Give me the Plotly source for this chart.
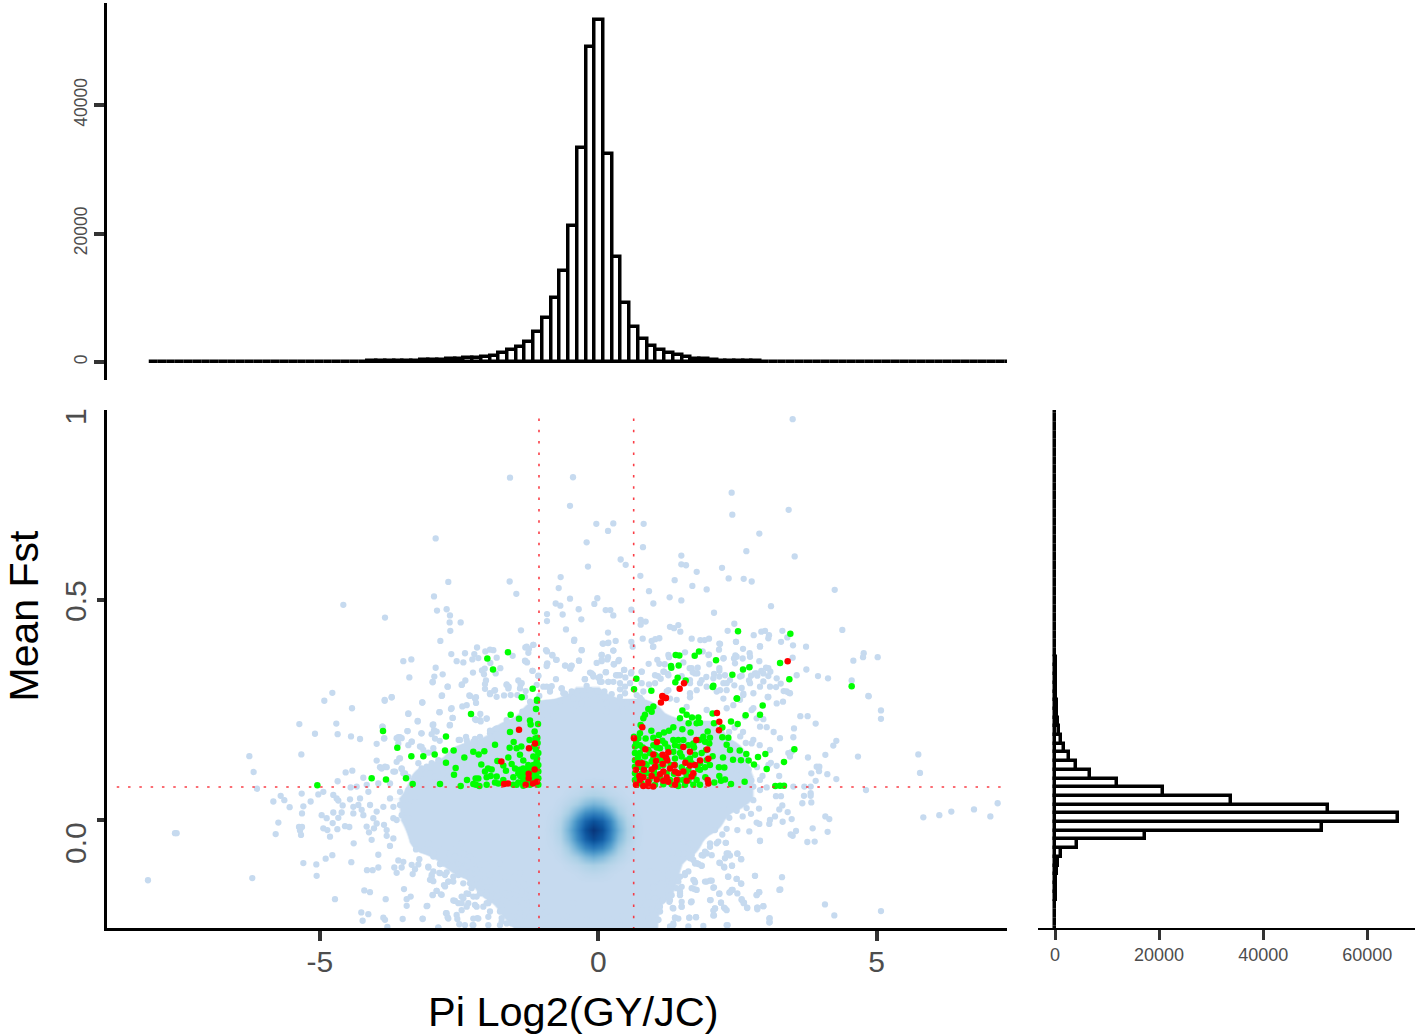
import plotly.graph_objects as go

W, H = 1418, 1036
FONT = "Liberation Sans"
GREY = "#4d4d4d"

# ---- marginal histogram of Pi Log2(GY/JC) (100 bins) ----
pi_bin_start = -7.9808
pi_bin_width = 0.1568
pi_counts = [2,1,1,1,2,1,2,2,3,3,4,5,5,6,8,10,12,14,18,22,28,36,
             44,55,68,85,105,130,160,190,230,270,320,370,430,500,580,640,
             730,990,1350,1870,2280,3170,4720,6800,9900,14200,21200,33300,48960,
             53300,
             32400,16400,9130,5500,3530,2490,1870,1450,1040,730,520,400,300,230,180,140,110,90,70,55,45,36,28,22,18,15,12,10,8,7,6,5,4,4,3,3,2,2,2,1,1,1,1,1,1,1,1]

# ---- marginal histogram of Mean Fst ----
fst_bin_start = -0.25178
fst_bin_width = 0.01977
fst_counts = [20,30,50,70,100,150,200,300,580,1220,4230,17370,51350,
              65960,
              52500,33850,20770,11990,6670,4040,2630,1730,1090,770,560,420,330,260,200,160,130,100,80,65,50,40,32,26,20,16,12,10,8,6,5,4,3,3,2,2,2,1,1,1,1,1,1,1,1,1,1]

# ---- read-off cut-offs ----
pi_low_cut = -1.065
pi_high_cut = 0.636
fst_cut = 0.075

# ---- dense part of the background cloud (occupancy) ----
cloud_x = [-3.6,-3.2,-2.8,-2.4,-2.0,-1.6,-1.2,-0.8,-0.4,0.0,0.4,0.8,1.2,1.6,2.0,2.4,2.8,3.2]
cloud_y = [-0.30,-0.25,-0.20,-0.15,-0.10,-0.05,0.0,0.05,0.10,0.15,0.20,0.25,0.30,0.35]
cloud_z = [
 [0,0,0,0,0,.3,1,1,1,1,1,1,.2,0,0,0,0,0],
 [0,0,0,0,0,.3,1,1,1,1,1,1,.2,0,0,0,0,0],
 [0,0,0,0,.2,.8,1,1,1,1,1,1,.3,0,0,0,0,0],
 [0,0,0,.2,.9,1,1,1,1,1,1,1,.9,0,0,0,0,0],
 [0,0,.5,1,1,1,1,1,1,1,1,1,1,.3,0,0,0,0],
 [0,.9,1,1,1,1,1,1,1,1,1,1,1,1,.2,0,0,0],
 [.4,1,1,1,1,1,1,1,1,1,1,1,1,1,1,.2,0,0],
 [.45,1,1,1,1,1,1,1,1,1,1,1,1,1,1,1,.45,0],
 [0,.8,1,1,1,1,1,1,1,1,1,1,1,1,1,1,.45,0],
 [0,0,.4,1,1,1,1,1,1,1,1,1,1,1,1,1,.2,0],
 [0,0,0,0,.4,1,1,1,1,1,1,1,1,1,1,.2,0,0],
 [0,0,0,0,0,.1,.8,1,1,1,1,1,.4,0,0,0,0,0],
 [0,0,0,0,0,0,0,0,.5,.5,0,0,0,0,0,0,0,0],
 [0,0,0,0,0,0,0,0,0,0,0,0,0,0,0,0,0,0],
]

# ---- density peak of the cloud ----
peak_x = [-0.986,-0.836,-0.686,-0.536,-0.386,-0.236,-0.086,0.064,0.214,0.364,0.514,0.664,0.814]
peak_y = [-0.143,-0.123,-0.103,-0.083,-0.063,-0.043,-0.023,-0.003,0.017,0.037,0.057,0.077,0.097]
peak_z = [
 [0,0,0,0,0,0,0,0,0,0,0,0,0],
 [0,0,0,0,1,3,4,3,1,0,0,0,0],
 [0,0,0,2,5,9,12,9,5,2,0,0,0],
 [0,0,2,7,15,28,35,28,16,7,2,0,0],
 [0,1,4,15,38,57,66,58,40,16,4,1,0],
 [0,2,8,27,56,78,90,80,58,28,9,2,0],
 [0,3,10,33,62,86,100,88,64,35,11,3,0],
 [0,2,8,26,55,76,86,78,58,28,8,2,0],
 [0,1,4,14,36,55,62,56,38,15,4,1,0],
 [0,0,2,6,14,26,33,27,15,6,2,0,0],
 [0,0,0,2,4,8,10,8,4,2,0,0,0],
 [0,0,0,0,1,2,3,2,1,0,0,0,0],
 [0,0,0,0,0,0,0,0,0,0,0,0,0],
]

# ---- individual background windows ----
blue_points = [
(-1.586,.778),(-.454,.779),(-.508,.714),(-.035,.673),(-.209,.631),(-.185,.576),(-2.921,.640),(-.676,.552),(-.711,.527),(-1.592,.542),
(-2.694,.541),(-2.951,.508),(-1.472,.514),(-.508,.503),(-.017,.504),(-.071,.491),(-.765,.492),(-.682,.487),(-.352,.479),(-4.580,.489),
(-2.897,.476),(-2.724,.479),(-2.664,.465),(-.921,.468),(-.921,.452),(-.640,.467),(-.304,.456),(-3.831,.460),(-2.670,.449),(-2.472,.449),
(-2.658,.430),(-1.388,.431),(-.580,.433),(-.430,.410),(-2.837,.407),(-1.167,.398),(-1.310,.392),(-1.245,.389),(-2.178,.392),(-.298,.386),
(-.921,.383),(-2.029,.383),(-1.945,.387),(-1.885,.386),(-2.394,.379),(-2.227,.377),(-2.640,.377),(-1.256,.380),(-1.538,.373),(-.825,.374),
(-.747,.364),(-.346,.362),(-1.825,.369),(-2.155,.368),(-2.262,.365),(-2.544,.361),(-2.424,.358),(-1.939,.357),(-3.502,.361),(-3.358,.365),
(-1.310,.361),(-1.280,.358),(-.921,.354),(-.592,.351),(-.484,.350),(-.502,.344),(-2.921,.346),(-1.760,.345),(-2.040,.344),(-2.089,.340),
(-1.184,.339),(-2.251,.335),(-2.795,.331),(-2.053,.331),(-1.843,.333),(-2.945,.326),(-3.394,.324),(-1.077,.327),(-.760,.320),(-.244,.320),
(-.148,.335),(-.095,.330),(0,.323),(-2.017,.317),(-2.388,.317),(-2.975,.314),(-2.448,.308),(-1.436,.317),(-1.394,.308),(-1.646,.308),
(-1.610,.303),(-2.706,.303),(-2.035,.298),(-.209,.305),(-.927,.303),(-.837,.304),(-.658,.299),(-.867,.292),(-.017,.292),(-4.777,.289),
(-3.711,.279),(-2.807,.283),(-2.316,.283),(-2.197,.279),(-1.945,.286),(-1.868,.294),(-1.826,.280),(-1.693,.283),(-1.574,.284),(-1.305,.293),
(-1.059,.282),(-.598,.287),(-.389,.288),(-.269,.292),(-.149,.284),
(3.492,.911),(2.396,.744),(3.420,.705),(2.408,.694),(.270,.674),(.815,.673),(.175,.657),(2.893,.651),(.803,.620),(2.660,.611),
(1.492,.601),(3.528,.599),(.402,.592),(.492,.580),(1.492,.581),(1.576,.579),(2.223,.573),(1.768,.564),(.756,.555),(1.372,.545),
(2.342,.549),(2.612,.548),(2.756,.542),(1.690,.532),(1.947,.524),(.911,.520),(4.247,.523),(1.282,.506),(.989,.492),(1.492,.499),
(3.103,.486),(.133,.477),(.217,.477),(.270,.465),(.594,.478),(2.079,.471),(.762,.455),(.851,.451),(.762,.444),(2.444,.446),
(1.288,.439),(1.360,.436),(1.438,.443),(1.474,.428),(2.324,.430),(4.384,.432),(.175,.426),(3.307,.430),(2.929,.428),(2.995,.430),
(2.792,.420),(3.067,.420),(3.055,.413),(3.396,.415),(.798,.412),(1.025,.411),(1.097,.413),(1.678,.412),(1.833,.409),(1.911,.409),
(1.989,.412),(.079,.401),(.175,.402),(.312,.407),(.594,.405),(2.175,.401),(2.474,.405),(3.283,.405),(.618,.394),(.983,.394),
(2.905,.395),(3.498,.397),(3.732,.394),(.270,.385),(2.169,.387),(2.600,.389),(1.558,.381),(1.875,.383),(2.719,.379),(.061,.375),
(.175,.370),(1.271,.370),(1.989,.376),(2.253,.368),(2.462,.374),(2.438,.367),(2.594,.367),(3.492,.369),(4.768,.379),(4.756,.370),
(5.019,.370),(4.582,.362),(.061,.361),(.360,.361),(.277,.354),(.905,.355),(1.097,.355),(1.193,.354),(1.528,.358),(1.995,.354),
(2.893,.361),(.462,.341),(.779,.337),(1.642,.345),(1.786,.346),(2.175,.339),(.594,.336),(1.169,.337),(1.253,.332),(3.738,.342),
(1.696,.336),(1.779,.333),(2.726,.348),(3.013,.346),(2.929,.339),(3.091,.337),(2.815,.333),(3.055,.327),(2.744,.328),(2.857,.328),
(3.564,.329),(3.947,.327),(4.127,.322),(.133,.336),(.319,.329),(.390,.329),(.486,.324),(1.073,.327),(1.121,.321),(1.941,.325),
(2.079,.332),(2.175,.326),(2.576,.328),(1.498,.327),(2.708,.317),(2.965,.315),(3.277,.310),(3.193,.302),(4.552,.317),(2.444,.306),
(2.576,.300),(3.330,.293),(3.426,.289),(2.606,.287),(3.049,.279),(4.858,.281),(.911,.308),(.390,.297),(.061,.314),(.181,.314),
(.241,.286),(.109,.292),(.480,.288),(.750,.278),(.809,.292),(1.229,.292),(1.648,.279),(1.947,.303),(2.127,.292),(2.306,.295),
(1.827,.311),(1.648,.311),(2.366,.318),(2.247,.311),
(-8.089,-.137),(-7.604,-.030),(-7.574,-.030),(-6.215,-.132),(-6.268,.145),(-6.191,.109),(-6.131,.071),(-5.370,.218),(-5.089,.196),(-5.334,.149),
(-4.921,.271),(-4.706,.219),(-4.682,.195),(-4.442,.190),(-4.424,.254),(-4.280,.184),(-3.879,.212),(-3.837,.271),(-3.981,.173),(-3.843,.186),
(-3.161,.267),(-3.412,.241),(-3.244,.224),(-3.424,.202),(-2.849,.245),(-2.646,.252),(-2.616,.232),(-2.669,.215),(-2.963,.217),(-3.179,.197),
(-2.903,.201),(-2.442,.258),(-2.364,.261),(-2.119,.241),(-2.005,.230),(-2.197,.227),(-2.113,.224),(-1.855,.206),(-1.945,.197),(-2.507,.182),
(-2.364,.182),(-2.215,.184),(-2.107,.177),(-2.849,.180),(-3.352,.178),(-3.622,.186),(-3.532,.186),(-3.592,.174),(-3.203,.167),(-3.053,.153),
(-2.963,.155),(-3.562,.140),(-3.981,.135),(-3.921,.120),(-3.801,.120),(-3.651,.110),(-3.532,.116),(-3.472,.106),(-4.418,.112),(-4.538,.108),
(-4.221,.096),(-4.682,.088),(-3.951,.083),(-3.741,.083),(-4.448,.074),(-4.340,.076),(-4.160,.080),(-4.130,.064),(-5.328,.060),(-5.029,.058),
(-4.939,.064),(-4.760,.057),(-4.700,.049),(-4.670,.044),(-4.460,.047),(-4.280,.049),(-5.705,.055),(-5.837,.042),(-5.640,.045),(-5.544,.029),
(-5.167,.042),(-5.298,.031),(-5.322,.015),(-4.592,.033),(-4.969,.011),(-4.760,.017),(-4.610,.017),(-4.879,.004),(-4.670,.005),(-4.771,-.007),
(-5.747,-.006),(-5.795,-.032),(-5.376,-.016),(-5.322,-.016),(-5.358,-.024),(-5.340,-.034),(-4.939,-.019),(-4.867,-.023),(-4.687,-.021),(-4.550,-.014),
(-4.472,-.016),(-4.819,-.038),(-4.400,.030),(-4.310,.034),(-4.250,.023),(-4.400,.015),(-4.220,.011),(-4.100,.034),(-3.981,.019),(-4.161,-.015),
(-4.041,.004),(-3.981,-.008),(-4.119,-.028),(-4.029,-.019),(-4.071,-.045),(-3.849,-.011),(-3.801,-.023),(-3.681,-.042),(-3.801,-.036),(-3.742,-.059),
(-4.394,-.053),(-3.274,-.067),(-3.681,.030),(-3.562,.034),(-3.532,.011),(-3.622,.000),(-3.861,.030),(-3.412,.004),(-3.681,.004),(-3.412,.068),
(-3.292,.053),(-3.562,.064),(-3.741,.049),(-3.412,.034),(-5.298,-.098),(-5.065,-.101),(-4.897,-.088),(-4.777,-.080),(-4.436,-.096),(-5.059,-.127),
(-3.951,-.079),(-4.155,-.114),(-4.053,-.114),(-3.951,-.108),(-3.664,-.108),(-3.592,-.092),(-3.502,-.095),(-3.532,-.108),(-3.622,-.120),(-3.334,-.123),
(-3.352,-.102),(-3.232,-.101),(-3.215,-.089),(-3.292,-.112),(-3.053,-.108),(-2.843,-.100),(-2.753,-.098),(-2.963,-.083),(-2.813,-.068),(-3.023,-.068),
(-2.663,-.076),(-2.604,-.087),(-2.993,-.125),(-2.855,-.120),(-3.023,-.136),(-2.963,-.139),(-2.753,-.125),(-2.753,-.151),(-2.693,-.140),(-2.513,-.125),
(-2.454,-.106),(-2.304,-.083),(-2.364,-.125),(-3.490,-.157),(-4.203,-.160),(-4.101,-.164),(-4.730,-.180),(-3.819,-.180),(-3.370,-.174),(-3.442,-.180),
(-3.442,-.195),(-2.975,-.170),(-2.903,-.161),(-2.813,-.170),(-3.071,-.195),(-2.604,-.183),(-2.514,-.189),(-2.424,-.178),(-2.335,-.168),(-2.364,-.197),
(-2.245,-.148),(-2.065,-.159),(-2.005,-.151),(-2.185,-.174),(-1.975,-.189),(-2.185,-.197),(-4.257,-.210),(-4.131,-.214),(-4.233,-.229),(-3.861,-.222),
(-3.831,-.227),(-3.514,-.225),(-3.155,-.225),(-2.735,-.212),(-2.706,-.221),(-2.532,-.225),(-2.496,-.237),(-3.789,-.243),(-2.873,-.245),(-2.173,-.223),
(-2.257,-.239),(-1.975,-.239),(-1.945,-.208),(-1.736,-.223),(-1.676,-.185),(-1.616,-.167),(-1.736,-.205),(-1.466,-.220),(-1.556,-.235),(-1.765,-.189),
(-1.287,-.189),(-1.376,-.163),(-1.227,-.220),(-1.346,-.239),
(4.851,.282),(5.078,.249),(5.078,.230),(5.749,.149),(5.779,.107),(4.665,.144),(4.276,.180),(4.222,.169),(4.079,.148),(3.767,.142),
(3.905,.219),(3.629,.236),(3.761,.236),(3.516,.208),(3.504,.188),(3.264,.186),(3.318,.269),(3.043,.280),(3.384,.292),(3.444,.288),
(3.025,.211),(2.965,.229),(2.905,.212),(2.845,.231),(2.755,.250),(2.605,.284),(2.635,.235),(2.785,.182),(2.755,.174),(3.084,.159),
(3.414,.152),(3.474,.155),(3.923,.121),(3.971,.121),(3.965,.111),(3.827,.106),(4.114,.104),(4.276,.093),(3.905,.089),(4.809,.068),
(3.815,.076),(3.701,.076),(3.815,.061),(3.815,.055),(3.695,.055),(3.827,.040),(3.665,.038),(3.192,.054),(3.282,.054),(3.306,.033),
(3.252,.024),(2.887,.026),(3.402,.018),(4.079,.008),(4.150,.002),(5.839,.006),(6.126,.011),(6.342,.019),(6.749,.024),(7.043,.008),
(7.174,.038),(3.474,.002),(3.174,.008),(3.084,.000),(3.072,-.009),(3.312,-.004),(2.845,-.006),(2.893,-.009),(2.594,.008),(2.743,.014),
(2.665,.027),(2.486,.021),(2.354,.005),(2.258,.026),(2.713,-.026),(2.498,-.023),(2.306,-.020),(3.851,-.019),(3.552,-.025),(4.120,-.027),
(3.456,-.033),(3.492,-.036),(2.905,-.047),(3.755,-.050),(3.887,-.049),(2.228,-.033),(2.288,-.052),(2.156,-.049),(2.007,-.053),(2.096,-.023),
(1.947,-.004),(2.306,-.076),(2.366,-.081),(2.498,-.076),(2.569,-.089),(2.186,-.098),(2.402,-.104),(2.264,-.108),(1.947,-.076),(1.887,-.081),
(1.767,-.098),(1.857,-.104),(1.558,-.121),(1.408,-.098),(1.677,-.061),(1.528,-.076),(1.348,-.061),(1.288,-.091),(2.330,-.129),(2.486,-.134),
(2.569,-.145),(2.815,-.127),(3.300,-.130),(3.270,-.158),(2.887,-.164),(2.845,-.170),(1.947,-.140),(2.037,-.138),(2.078,-.153),(1.725,-.138),
(1.725,-.157),(2.414,-.159),(2.366,-.164),(2.174,-.168),(2.019,-.182),(2.204,-.188),(2.576,-.182),(2.611,-.189),(2.677,-.200),(2.857,-.199),
(2.965,-.196),(2.276,-.201),(2.096,-.201),(2.066,-.217),(1.677,-.185),(1.468,-.167),(1.288,-.182),(1.108,-.197),(1.348,-.201),(1.498,-.197),
(4.072,-.192),(4.240,-.217),(5.078,-.207),(3.079,-.223),(3.079,-.232),(1.755,-.221),(1.635,-.222),(1.378,-.222),(1.078,-.227),(.899,-.220),
(1.348,-.239),(1.887,-.241),(2.324,-.239),(.899,-.174),(.989,-.151),(1.108,-.144),(1.258,-.140),(1.468,-.129),(.929,-.117),(1.078,-.121),
(1.228,-.114),(1.707,-.091),(.869,-.204),(.929,-.235),(.629,-.227),(.390,-.220),(.090,-.231),(-.209,-.227),(-.389,-.235),(-.568,-.220),
(-.448,-.189),(2.486,.106),(2.575,.091),(2.905,.091),(3.055,.125),(3.204,.123),(3.444,.144),(2.785,.076),(3.025,.074),(2.905,.068),(2.665,.061),
(2.785,.045),(3.504,.076),
# lower-left fringe
(-3.113,-.068),(-3.053,-.053),(-2.963,-.076),(-2.664,-.080),(-2.604,-.068),(-2.454,-.053),(-2.425,-.076),(-2.634,-.091),(-2.574,-.083),(-2.784,-.099),
(-2.844,-.100),(-2.514,-.099),(-2.454,-.091),(-3.053,-.106),(-2.963,-.117),(-2.993,-.129),(-2.993,-.136),(-2.844,-.121),(-2.724,-.119),(-2.604,-.129),
(-2.694,-.140),(-2.772,-.148),(-2.604,-.140),(-2.425,-.110),(-2.365,-.106),(-2.245,-.091),(-2.185,-.110),(-2.125,-.102),(-2.035,-.129),(-2.305,-.144),
(-2.275,-.155),(-2.125,-.148),(-2.005,-.152),(-2.365,-.167),(-2.455,-.174),(-2.574,-.184),(-2.454,-.189),(-2.335,-.189),(-2.245,-.174),(-2.215,-.193),
(-2.065,-.197),(-1.945,-.182),(-1.916,-.174),(-2.005,-.189),(-2.454,-.205),(-2.544,-.216),(-2.724,-.212),(-2.694,-.224),(-3.083,-.196),(-3.155,-.224),
(-2.904,-.161),(-2.975,-.171),(-2.826,-.169),(-1.766,-.208),(-1.706,-.205),(-1.616,-.189),(-1.676,-.167),(-1.586,-.171),(-1.526,-.144),(-1.706,-.144),
(-1.676,-.129),(-1.856,-.144),(-1.946,-.125),(-1.466,-.186),(-1.407,-.182),(-1.556,-.220),(-1.736,-.231),(-1.407,-.227),(-1.407,-.212),(-1.287,-.205),
(-1.137,-.201),(-1.167,-.216),(-1.646,-.235),(-1.526,-.235),(-1.766,-.239),(-2.245,-.239),(-2.395,-.239),(-2.245,-.224),(-2.155,-.224),(-1.975,-.220),
(-1.137,-.235),(-1.287,-.231),(-.957,-.227),(-.808,-.235),(-.628,-.231),(-.389,-.235),(-.239,-.239),(-.059,-.231),(-2.874,-.244),(-1.227,-.159),
(-1.347,-.144),(-1.467,-.159),(-1.945,-.091),(-1.766,-.099),(-2.125,-.125),(-2.425,-.144),(-2.305,-.121),(-1.407,-.121),(-1.586,-.121),(-1.826,-.121),
(-2.125,-.167),(-1.826,-.174),(-1.047,-.205),(-.928,-.208),(-1.347,-.189),(-1.167,-.182),(-1.227,-.174),(-1.706,-.182),(-2.005,-.171),(-2.035,-.140),
(-2.185,-.133),(-2.305,-.133),(-1.826,-.159),
# lower-right fringe
(1.528,-.049),(1.648,-.053),(1.708,-.057),(2.007,-.061),(2.127,-.053),(2.294,-.052),(2.905,-.048),(1.438,-.076),(1.348,-.087),(1.468,-.091),
(1.378,-.106),(1.678,-.080),(1.648,-.087),(1.857,-.080),(1.917,-.072),(2.037,-.080),(2.276,-.087),(2.336,-.076),(2.498,-.077),(2.564,-.089),
(2.175,-.097),(2.258,-.106),(2.402,-.104),(1.738,-.099),(1.797,-.100),(1.857,-.104),(1.618,-.117),(1.558,-.125),(1.259,-.125),(1.139,-.144),
(1.318,-.144),(1.438,-.140),(1.229,-.159),(1.408,-.155),(1.498,-.152),(.989,-.154),(1.468,-.163),(2.336,-.129),(2.486,-.134),(2.564,-.144),
(2.815,-.127),(1.708,-.136),(1.738,-.142),(1.917,-.140),(2.007,-.138),(2.067,-.154),(1.678,-.155),(1.768,-.159),(2.175,-.167),(2.396,-.159),
(2.354,-.165),(2.498,-.167),(2.893,-.164),(2.845,-.171),(3.253,-.159),(2.576,-.180),(2.618,-.188),(2.672,-.199),(1.666,-.187),(2.007,-.182),
(2.205,-.188),(2.259,-.199),(2.306,-.205),(2.097,-.201),(2.067,-.206),(2.079,-.217),(2.857,-.199),(2.965,-.196),(2.857,-.203),(1.259,-.171),
(1.318,-.171),(1.468,-.171),(1.019,-.178),(1.157,-.183),(1.277,-.186),(1.498,-.186),(1.498,-.197),(1.337,-.200),(1.079,-.196),(1.109,-.208),
(.959,-.203),(.750,-.189),(.869,-.212),(.899,-.224),(1.079,-.227),(1.378,-.222),(1.438,-.224),(1.636,-.222),(1.756,-.221),(1.348,-.235),
(1.289,-.242),(1.618,-.242),(2.306,-.239),(3.073,-.224),(3.073,-.233),(.750,-.231),(.390,-.227),(.241,-.227),(.450,-.220),(.390,-.241),
(.570,-.239),(.780,-.205),(.690,-.208),
# upper-left fringe
(-3.837,.273),(-3.711,.279),(-3.412,.242),(-3.161,.267),(-2.813,.282),(-2.705,.303),(-2.975,.313),(-2.454,.307),(-2.304,.282),(-2.214,.276),
(-2.196,.266),(-2.634,.254),(-2.855,.245),(-3.244,.225),(-2.616,.232),(-2.664,.216),(-2.975,.216),(-2.951,.204),(-2.993,.195),(-3.173,.197),
(-3.430,.202),(-3.849,.185),(-3.873,.212),(-3.592,.188),(-3.562,.188),(-3.352,.178),(-3.412,.170),(-3.173,.166),(-3.143,.159),(-2.963,.163),
(-2.933,.185),(-2.484,.182),(-2.376,.189),(-2.352,.176),(-2.244,.178),(-2.125,.189),(-2.005,.231),(-2.125,.227),(-2.214,.229),(-1.825,.208),
(-1.945,.203),(-2.035,.309),(-1.945,.288),(-1.855,.295),(-1.646,.307),(-1.616,.299),(-1.454,.284),(-1.364,.246),(-1.586,.220),(-1.915,.185),
(-1.676,.189),(-1.646,.227),(-3.574,.140),(-3.622,.132),(-3.831,.121),(-3.891,.117),(-3.532,.117),(-3.502,.106),(-3.412,.098),(-3.681,.110),
(-3.232,.129),(-3.173,.117),(-3.083,.121),(-2.993,.129),(-2.873,.136),(-2.783,.129),(-3.113,.102),(-3.023,.106),(-2.933,.098),(-2.783,.106),
(-2.663,.098),(-2.544,.136),(-2.424,.140),(-2.334,.148),(-2.244,.113),(-2.125,.106),(-1.885,.151),(-1.765,.170),(-3.262,.087),(-3.143,.091),
(-2.963,.083),(-2.723,.083),(-2.544,.091),(-2.424,.102),(-2.364,.117),(-2.244,.136),(-2.065,.136),
# top fringe
(-1.286,.394),(-1.166,.398),(-.939,.386),(-.825,.375),(-.759,.364),(-.298,.386),(-.436,.407),(.091,.401),(.181,.403),(.061,.375),
(.271,.385),(.163,.365),(.061,.364),(-.029,.357),(.372,.364),(.283,.354),(-1.316,.362),(-.915,.356),(-.927,.350),(-.598,.351),
(-.478,.351),(-.508,.345),(-.346,.362),(-1.178,.339),(-1.077,.328),(-.119,.333),(-.089,.326),(.139,.336),(.031,.326),(.031,.314),
(-.238,.320),(.348,.329),(.468,.341),(.588,.333),(.780,.337),(1.019,.329),(1.181,.337),(1.259,.329),(1.061,.364),(1.259,.375),
(.989,.394),(.959,.407),(1.678,.345),(1.738,.333),(1.977,.375),(2.247,.367),(2.175,.345),(2.486,.371),(2.456,.356),(2.726,.371),
(2.905,.394),(2.474,.405),(2.187,.400),(3.055,.345),(2.965,.333),(2.845,.333),(3.205,.322),(3.085,.303),(2.726,.311),(2.546,.326),
(2.277,.329),(2.067,.322),(1.857,.318),(1.648,.318),(.181,.314),(.271,.314),(.390,.311),(.570,.311),(.480,.303),(.690,.284),
(.780,.311),(1.019,.311),(1.259,.295),(1.289,.276),(1.648,.288),(1.768,.295),(2.187,.295),(2.307,.311),(2.786,.288),(3.055,.280),
(2.546,.273),(2.426,.261),(2.247,.276),(2.905,.303),(-.657,.299),(-.628,.288),(-.687,.269),(-.867,.299),(-.987,.303),(-1.107,.307),
(-.478,.292),(-.448,.276),(-.268,.284),(-.298,.265),(-.148,.295),(0,.292),(.121,.280),(-.029,.273),(.151,.265),(.390,.280),
(.510,.265),(.331,.257),(.630,.257),(-.867,.250),(-.807,.235),(-1.376,.311),(-1.406,.299),(-1.316,.280),(-1.226,.269),(-.987,.227),
(-.448,.250),(-.148,.250),(.151,.246),(.450,.246),(.780,.273),(1.588,.257),(1.947,.250),(2.307,.254),(2.786,.254),(3.205,.265),
(1.408,.273),
# upper-right fringe
(2.35,.12),(2.5,.10),(2.7,.115),(2.85,.12),(2.45,.15),(2.65,.175),(2.9,.17),(3.1,.13),(2.95,.10),(3.25,.10),(2.75,.09),(2.55,.19),(2.35,.20),(2.6,.20),(2.45,.21),(3.15,.20),(2.3,.16),
]

# ---- windows passing the Fst and Pi cut-offs ----
green_points = [
(-1.993,.367),(-1.622,.381),(-1.891,.342),(-1.179,.298),(-1.376,.279),(-1.101,.273),
(.684,.321),(.642,.297),(.953,.294),(1.390,.375),(1.456,.374),(1.732,.373),(1.809,.383),(2.115,.363),(1.306,.350),(1.312,.346),
(1.444,.351),(1.426,.323),(1.384,.313),(1.570,.317),(2.408,.330),(2.600,.342),(2.714,.347),(2.510,.429),(3.450,.423),(3.265,.357),
(3.432,.320),(4.552,.304),(2.067,.305),(2.055,.302),(2.486,.276),
(-5.047,.079),(-3.867,.202),(-3.610,.164),(-4.071,.095),(-3.813,.092),(-3.454,.095),(-3.334,.082),(-3.358,.145),(-3.143,.145),(-2.939,.149),
(-2.753,.158),(-2.598,.158),(-2.736,.190),(-2.286,.241),(-1.574,.239),(-1.101,.271),(-1.119,.252),(-1.424,.230),(-1.227,.226),(-1.083,.218),
(-1.215,.217),(-1.586,.200),(-1.143,.201),(-1.095,.187),(-1.233,.182),(-1.520,.177),(-1.855,.171),(-1.382,.167),(-1.592,.164),(-1.467,.163),
(-2.245,.155),(-2.047,.156),(-2.148,.149),(-2.406,.142),(-1.616,.142),(-1.407,.148),(-1.155,.167),(-1.077,.152),(-1.167,.144),(-1.107,.133),
(-2.736,.130),(-1.813,.134),(-2.101,.126),(-2.562,.118),(-1.706,.124),(-1.556,.127),(-1.347,.135),(-1.981,.117),(-1.915,.115),(-2.035,.110),
(-1.658,.112),(-1.495,.117),(-2.592,.103),(-1.933,.100),(-1.825,.099),(-2.005,.097),(-2.358,.091),(-2.203,.094),(-2.155,.094),(-2.843,.082),
(-2.472,.077),(-2.245,.082),(-2.136,.077),(-2.197,.080),(-2.005,.080),(-1.855,.085),(-1.706,.091),(-1.526,.097),(-1.436,.106),(-1.347,.117),
(-1.257,.125),(-1.107,.117),(-1.436,.085),(-1.347,.091),(-1.376,.102),(-1.467,.080),(-1.347,.078),(-1.227,.080),(-1.167,.091),(-1.077,.095),
(-1.227,.110),(-1.167,.102),(-1.077,.110),(-1.287,.102),(-1.407,.114),(-1.317,.110),(-1.287,.095),(-1.077,.080),(-1.526,.080),(-1.795,.083),
(-1.167,.125),(-1.077,.125),(-1.167,.114),
(2.492,.276),(2.953,.260),(2.905,.239),(2.647,.238),(2.504,.218),(2.384,.224),(2.054,.242),(2.078,.220),(2.228,.210),(2.336,.187),
(2.228,.188),(2.306,.171),(2.366,.159),(2.540,.158),(2.659,.150),(3.001,.150),(2.869,.143),(3.522,.161),(3.336,.132),(3.025,.116),
(2.797,.126),(2.701,.135),(2.563,.136),(2.420,.137),(2.240,.142),(2.168,.120),(2.264,.119),(2.174,.100),(2.276,.092),(2.204,.089),
(2.084,.085),(1.923,.097),(2.384,.082),(2.629,.087),(3.180,.077),(3.264,.078),(3.336,.078),(1.827,.080),(1.707,.080),(1.510,.249),
(1.587,.239),(1.683,.233),(1.797,.233),(1.468,.231),(1.623,.220),(1.767,.220),(1.827,.221),(1.348,.211),(1.510,.206),(1.659,.199),
(1.965,.201),(1.887,.189),(2.006,.187),(1.815,.182),(1.917,.178),(1.994,.174),(1.270,.203),(1.180,.199),(1.090,.193),(.989,.187),
(.953,.203),(.761,.216),(.809,.231),(.839,.239),(.899,.252),(.989,.258),(.959,.246),(.641,.189),(.749,.197),(.719,.186),
(1.348,.182),(1.438,.182),(1.528,.182),(1.617,.170),(1.707,.174),(1.378,.170),(1.468,.167),(1.857,.152),(2.054,.145),(1.935,.159),
(1.737,.148),(1.647,.140),(1.498,.144),(1.917,.120),(1.797,.116),(2.006,.125),(.659,.167),(.749,.170),(.659,.152),(.749,.152),
(.659,.136),(.749,.133),(.839,.144),(.899,.159),(.989,.170),(1.108,.163),(1.198,.174),(.659,.121),(.659,.106),(.659,.091),
(.868,.125),(1.018,.148),(.928,.152),(1.348,.155),(1.468,.152),(1.378,.140),(.959,.133),(.779,.083),(1.018,.080),(1.168,.081),
(1.318,.081),(1.558,.080),(1.438,.077),(1.108,.095),(.869,.106),(1.228,.106),(1.438,.091),(1.707,.102),(1.827,.114),(1.587,.102),
(.899,.080),(.689,.080),(1.078,.121),(1.168,.125),(.809,.114),(1.049,.099),(1.288,.091),(1.528,.091),(1.767,.091),(1.378,.125),
(1.617,.114),(.989,.140),(.749,.121),(1.108,.144),(1.228,.140),(1.827,.129),(1.677,.129),(1.946,.136),
(.70,.100),(.72,.145),(.80,.165),(.85,.185),(.68,.175),(.78,.105),(.92,.092),(1.00,.110),(.72,.085),(.84,.128),
(1.14,.135),(1.30,.125),(1.25,.165),(1.58,.135),(1.72,.165),(1.36,.105),(1.50,.120),(1.62,.090),(1.15,.180),(1.05,.165),
(-1.12,.095),(-1.12,.105),(-1.20,.090),(-1.30,.085),(-1.40,.100),(-1.25,.115),(-1.10,.140),(-1.12,.160),(-1.09,.175),(-1.13,.185),
]

red_points = [
(1.540,.311),(1.462,.298),(1.151,.282),(1.205,.277),(3.402,.361),
(-1.424,.205),(-1.137,.174),(-1.245,.163),(-1.742,.133),(-1.143,.115),(-1.250,.105),(-1.250,.095),(-1.692,.082),(-1.622,.083),(-1.304,.080),
(-1.173,.083),(-1.101,.087),
(1.156,.280),(1.216,.277),(1.126,.267),(.791,.211),(.641,.186),(1.054,.177),(.845,.161),(2.132,.243),(2.174,.223),(2.168,.204),
(1.761,.182),(1.528,.166),(1.647,.155),(1.959,.160),(1.977,.139),(1.827,.135),(1.737,.125),(1.647,.124),(1.564,.130),(.989,.149),
(1.156,.148),(1.258,.154),(1.216,.142),(1.240,.135),(1.156,.127),(1.037,.134),(.719,.129),(.791,.129),(1.018,.121),(.959,.115),
(.677,.114),(.821,.114),(1.366,.125),(1.288,.117),(1.168,.110),(1.378,.110),(1.528,.110),(1.438,.106),(1.707,.106),(1.677,.099),
(1.108,.104),(.737,.100),(.809,.097),(.959,.100),(1.049,.092),(1.228,.097),(1.408,.091),(1.587,.089),(1.965,.091),(1.977,.083),
(.677,.080),(.809,.077),(.899,.077),(.988,.076),(1.168,.089),(1.258,.087),(1.378,.080),(.749,.091),(.899,.087),
]

x_tick_vals = [-5, 0, 5]
x_tick_text = ["-5", "0", "5"]
count_ticks_top = [0, 20000, 40000]
count_ticks_right = [0, 20000, 40000, 60000]
y_tick_vals = [0, 0.5]


def px(v):
    return v / W


def py(v):
    return 1 - v / H


fig = go.Figure()

# dense cloud
fig.add_trace(go.Heatmap(x=cloud_x, y=cloud_y, z=cloud_z, zmin=0, zmax=1, zsmooth="best", showscale=False,
                         hoverinfo="skip",
                         colorscale=[[0, "rgba(198,218,239,0)"], [0.44, "rgba(198,218,239,0)"],
                                     [0.5, "rgba(198,218,239,1)"], [1, "rgba(198,218,239,1)"]]))
fig.add_trace(go.Heatmap(x=peak_x, y=peak_y, z=peak_z, zmin=0, zmax=100, zsmooth="best", showscale=False,
                         hoverinfo="skip",
                         colorscale=[[0, "#c6daef"], [0.1, "#afd2e7"], [0.3, "#7db8da"], [0.5, "#4a97c9"],
                                     [0.7, "#2271b5"], [0.85, "#0c539c"], [1, "#08357a"]]))


def scatter(points, colour, size, name):
    fig.add_trace(go.Scatter(x=[p[0] for p in points], y=[p[1] for p in points], mode="markers", name=name,
                             marker=dict(color=colour, size=size, line=dict(width=0)), showlegend=False))


scatter(blue_points, "#c6daef", 6.3, "windows")
scatter(green_points, "#00ff00", 6.5, "selected")
scatter(red_points, "#ff0000", 6.5, "candidates")

# cut-off lines
cut_style = dict(color="rgba(250,40,50,0.9)", width=1.6, dash="2.5px,8.8px")
fig.add_trace(go.Scatter(x=[pi_low_cut, pi_low_cut], y=[-0.2489, 0.915], mode="lines", line=cut_style, showlegend=False))
fig.add_trace(go.Scatter(x=[pi_high_cut, pi_high_cut], y=[-0.2489, 0.915], mode="lines", line=cut_style, showlegend=False))
fig.add_trace(go.Scatter(x=[-8.65, 7.3], y=[fst_cut, fst_cut], mode="lines", line=cut_style, showlegend=False))

# marginals
bar_style = dict(color="white", line=dict(color="black", width=3.5))
fig.add_trace(go.Bar(x0=pi_bin_start, dx=pi_bin_width, y=pi_counts, width=pi_bin_width, marker=bar_style,
                     xaxis="x2", yaxis="y2", showlegend=False))
fig.add_trace(go.Bar(y0=fst_bin_start, dy=fst_bin_width, x=fst_counts, width=fst_bin_width, orientation="h",
                     marker=bar_style, xaxis="x3", yaxis="y3", showlegend=False))

x_range = [-8.834, 7.342]
y_range = [-0.2455, 0.9318]
tick = dict(ticks="outside", tickcolor="#333333", showgrid=False, zeroline=False)

fig.update_layout(
    width=W, height=H, margin=dict(l=0, r=0, t=0, b=0), paper_bgcolor="white", plot_bgcolor="white",
    font=dict(family=FONT, color=GREY), bargap=0, showlegend=False,
    xaxis=dict(domain=[px(106.5), px(1007)], range=x_range, anchor="y", tickvals=x_tick_vals, ticktext=x_tick_text,
               ticklen=10, tickwidth=3.5, tickfont=dict(size=30, color=GREY, family=FONT), ticklabelstandoff=-5,
               showline=True, linecolor="black", linewidth=3, **tick),
    yaxis=dict(domain=[py(928), py(410)], range=y_range, anchor="x", tickvals=y_tick_vals, ticktext=["", ""],
               ticklen=7, tickwidth=3.5, showline=True, linecolor="black", linewidth=3, **tick),
    xaxis2=dict(domain=[px(106.5), px(1007)], range=x_range, anchor="y2", visible=False),
    yaxis2=dict(domain=[py(380), py(3)], range=[-2800, 55875], anchor="x2", tickvals=count_ticks_top,
                ticktext=[str(v) for v in count_ticks_top],
                tickangle=-90, ticklen=10, tickwidth=3.5, tickfont=dict(size=17.5, color=GREY, family=FONT),
                showline=True, linecolor="black", linewidth=3, **tick),
    xaxis3=dict(domain=[px(1038), px(1415)], range=[-3270, 69170], anchor="y3", tickvals=count_ticks_right,
                ticktext=[str(v) for v in count_ticks_right],
                ticklen=10, tickwidth=3, tickfont=dict(size=18, color=GREY, family=FONT),
                showline=True, linecolor="black", linewidth=1.5, **tick),
    yaxis3=dict(domain=[py(928), py(410)], range=y_range, anchor="x3", visible=False),
    annotations=[
        dict(text="Pi Log2(GY/JC)", x=px(573), y=py(1011), xref="paper", yref="paper", showarrow=False,
             xanchor="center", yanchor="middle", font=dict(size=41.5, color="black", family=FONT)),
        dict(text="Mean Fst", x=px(23.5), y=py(616), xref="paper", yref="paper", showarrow=False, textangle=-90,
             xanchor="center", yanchor="middle", font=dict(size=41, color="black", family=FONT)),
        dict(text="1", x=px(75), y=py(417), xref="paper", yref="paper", showarrow=False, textangle=-90,
             xanchor="center", yanchor="middle", font=dict(size=30, color=GREY, family=FONT)),
        dict(text="0.5", x=px(75), y=py(601), xref="paper", yref="paper", showarrow=False, textangle=-90,
             xanchor="center", yanchor="middle", font=dict(size=30, color=GREY, family=FONT)),
        dict(text="0.0", x=px(75), y=py(843), xref="paper", yref="paper", showarrow=False, textangle=-90,
             xanchor="center", yanchor="middle", font=dict(size=30, color=GREY, family=FONT)),
    ],
)

fig.write_html("out.html", post_script="document.body.style.margin='0';", config=dict(displayModeBar=False))
